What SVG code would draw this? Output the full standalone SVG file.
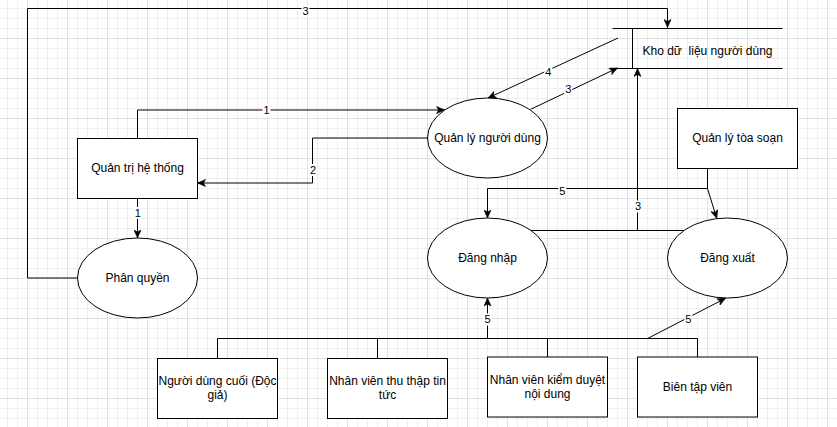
<svg xmlns="http://www.w3.org/2000/svg" width="837" height="427" viewBox="0 0 837 427">
<defs>
<pattern id="grid" x="-13" y="-2" width="40" height="40" patternUnits="userSpaceOnUse">
<rect x="0" y="10" width="40" height="1" fill="#f0f0f0"/>
<rect x="0" y="20" width="40" height="1" fill="#f0f0f0"/>
<rect x="0" y="30" width="40" height="1" fill="#f0f0f0"/>
<rect x="10" y="0" width="1" height="40" fill="#f0f0f0"/>
<rect x="20" y="0" width="1" height="40" fill="#f0f0f0"/>
<rect x="30" y="0" width="1" height="40" fill="#f0f0f0"/>
<rect x="0" y="0" width="40" height="1" fill="#e1e1e1"/>
<rect x="0" y="0" width="1" height="40" fill="#e1e1e1"/>
</pattern>
<marker id="arr" markerUnits="userSpaceOnUse" markerWidth="9" markerHeight="8" viewBox="0 0 9 8" refX="8.5" refY="4" orient="auto">
<path d="M8.5,4 L0.5,0.5 L2.5,4 L0.5,7.5 Z" fill="#000" stroke="#000" stroke-width="0.6"/>
</marker>
<style>
.n{fill:#fff;stroke:#000;stroke-width:1}
.l{fill:none;stroke:#000;stroke-width:1}
.a{marker-end:url(#arr)}
.t{font-family:"Liberation Sans",Arial,sans-serif;font-size:12px;fill:#000;text-anchor:middle}
.lb{font-family:"Liberation Sans",Arial,sans-serif;font-size:11px;fill:#000;text-anchor:middle}
.bg{fill:#fff}
</style>
</defs>
<rect x="0" y="0" width="837" height="427" fill="#fff"/>
<rect x="0" y="0" width="837" height="427" fill="url(#grid)"/>

<g id="connectors">
<polyline class="l a" points="77.5,278 27.5,278 27.5,8.5 667.5,8.5 667.5,27.5"/>
<polyline class="l a" points="137.5,138 137.5,110 444.6,110"/>
<polyline class="l a" points="427.5,138 312.5,138 312.5,183 197.5,183"/>
<line class="l a" x1="137.5" y1="198" x2="137.5" y2="238"/>
<line class="l a" x1="618" y1="38" x2="488" y2="98"/>
<line class="l a" x1="530.7" y1="109.3" x2="617.5" y2="68"/>
<line class="l" x1="530.3" y1="230.5" x2="684.6" y2="230.5"/>
<line class="l a" x1="637.5" y1="230.5" x2="637.5" y2="68.5"/>
<polyline class="l a" points="707.5,168 707.5,188.5 487.5,188.5 487.5,218"/>
<line class="l a" x1="707.5" y1="188.5" x2="716.7" y2="218.3"/>
<polyline class="l" points="217.5,358 217.5,338.5 697.5,338.5 697.5,357"/>
<line class="l" x1="377.5" y1="358" x2="377.5" y2="338.5"/>
<line class="l" x1="547.5" y1="357" x2="547.5" y2="338.5"/>
<line class="l a" x1="487.5" y1="338.5" x2="487.5" y2="298"/>
<line class="l a" x1="647.5" y1="338.5" x2="725.5" y2="298.3"/>

<rect class="bg" x="301.5" y="5" width="8" height="12"/>
<text class="lb" x="305.5" y="15">3</text>
<rect class="bg" x="262.5" y="104" width="8" height="12"/>
<text class="lb" x="266.5" y="114">1</text>
<rect class="bg" x="309" y="164" width="8" height="12"/>
<text class="lb" x="313" y="174.3">2</text>
<rect class="bg" x="133.5" y="207" width="8" height="12"/>
<text class="lb" x="137.8" y="217">1</text>
<rect class="bg" x="544.3" y="66" width="8" height="12"/>
<text class="lb" x="548.3" y="76">4</text>
<rect class="bg" x="564.3" y="83.5" width="8" height="12"/>
<text class="lb" x="568.3" y="93.3">3</text>
<rect class="bg" x="634" y="200.5" width="8" height="12"/>
<text class="lb" x="638" y="210.3">3</text>
<rect class="bg" x="558.3" y="185.5" width="8" height="12"/>
<text class="lb" x="562.3" y="195.3">5</text>
<rect class="bg" x="483.5" y="313.5" width="8" height="12"/>
<text class="lb" x="487.5" y="323.3">5</text>
<rect class="bg" x="684.3" y="313.5" width="8" height="12"/>
<text class="lb" x="688.3" y="323.3">5</text>
</g>

<g id="kho-du-lieu">
<line class="l" x1="612.5" y1="28.5" x2="782.5" y2="28.5"/>
<line class="l" x1="612.5" y1="68.5" x2="782.5" y2="68.5"/>
<line class="l" x1="632.5" y1="28.5" x2="632.5" y2="68.5"/>
<text class="t" x="707.5" y="55" xml:space="preserve">Kho dữ  liệu người dùng</text>
</g>

<g id="quan-tri">
<rect class="n" x="77.5" y="138.5" width="120" height="60"/>
<text class="t" x="137.5" y="172">Quản trị hệ thống</text>
</g>

<g id="phan-quyen">
<ellipse class="n" cx="137.5" cy="278" rx="60" ry="40"/>
<text class="t" x="137.5" y="282">Phân quyền</text>
</g>

<g id="quan-ly-nguoi-dung">
<ellipse class="n" cx="487.5" cy="138" rx="60" ry="40"/>
<text class="t" x="487.5" y="142">Quản lý người dùng</text>
</g>

<g id="quan-ly-toa-soan">
<rect class="n" x="677.5" y="108.5" width="120" height="60"/>
<text class="t" x="737.5" y="142">Quản lý tòa soạn</text>
</g>

<g id="dang-nhap">
<ellipse class="n" cx="487.5" cy="258" rx="60" ry="40"/>
<text class="t" x="487.5" y="262">Đăng nhập</text>
</g>

<g id="dang-xuat">
<ellipse class="n" cx="727.5" cy="258" rx="60" ry="40"/>
<text class="t" x="727.5" y="262">Đăng xuất</text>
</g>

<g id="nguoi-dung-cuoi">
<rect class="n" x="157.5" y="358.5" width="120" height="60"/>
<text class="t" x="217.5" y="385">Người dùng cuối (Độc</text>
<text class="t" x="217.5" y="399.4">giả)</text>
</g>

<g id="nv-thu-thap">
<rect class="n" x="327.5" y="358.5" width="120" height="60"/>
<text class="t" x="387.5" y="385">Nhân viên thu thập tin</text>
<text class="t" x="387.5" y="399.4">tức</text>
</g>

<g id="nv-kiem-duyet">
<rect class="n" x="487.5" y="357" width="120" height="60"/>
<text class="t" x="547.5" y="383.6">Nhân viên kiểm duyệt</text>
<text class="t" x="547.5" y="398">nội dung</text>
</g>

<g id="bien-tap-vien">
<rect class="n" x="637.5" y="357" width="120" height="60"/>
<text class="t" x="697.5" y="391">Biên tập viên</text>
</g>
</svg>
